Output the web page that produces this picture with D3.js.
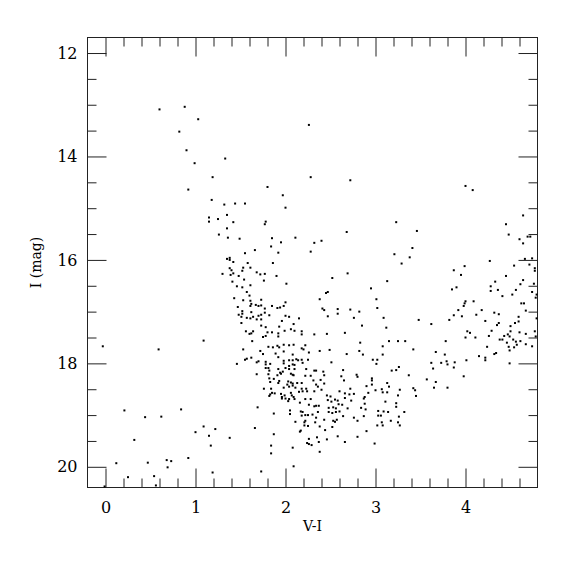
<!DOCTYPE html>
<html lang="en">
<head>
<meta charset="UTF-8">
<title>V-I vs I</title>
<script src="https://cdn.jsdelivr.net/npm/d3@7/dist/d3.min.js"></script>
<style>
  body { margin: 0; background: #fff; }
  text { font-family: "DejaVu Serif", serif; fill: #000; }
</style>
</head>
<body>
<svg width="575" height="575"></svg>
<script>
// colour V-I of each star
var colorVI = [
  0.60,0.88,1.03,0.82,0.90,1.33,0.99,1.19,
  2.26,2.28,
  0.92,1.18,1.32,1.35,1.15,1.15,1.25,1.35,1.26,1.36,1.35,1.38,1.38,1.38,1.30,1.39,
  2.72,1.80,1.97,1.44,1.55,2.00,1.42,1.78,1.77,2.68,1.49,1.85,2.11,1.95,2.40,2.32,1.84,1.66,2.28,1.92,
  1.55,1.42,1.86,1.58,1.53,1.61,1.40,1.52,1.42,1.68,1.72,1.77,2.69,1.48,1.90,2.52,1.54,1.76,1.41,2.01,
  1.46,1.52,1.61,2.95,1.57,2.47,2.45,1.60,1.43,2.38,3.01,1.53,1.61,1.73,2.00,1.62,1.67,1.70,1.73,1.61,
  1.47,1.85,1.98,1.91,1.94,1.77,2.41,2.43,2.58,2.72,3.02,1.52,1.52,1.62,2.58,1.77,2.82,1.48,1.73,1.70,
  1.64,1.51,1.82,2.00,2.04,2.47,1.57,1.61,2.76,2.15,1.68,1.73,1.96,1.51,2.09,1.73,2.85,1.78,1.93,2.06,
  4.00,4.08,4.64,3.23,4.45,3.46,4.48,4.60,4.69,4.72,4.64,3.41,3.21,3.38,4.66,4.74,4.27,3.29,4.54,4.71,
  4.77,4.77,3.87,3.99,3.95,4.45,3.13,4.64,4.33,4.61,4.76,4.28,3.90,3.85,4.28,4.36,4.56,4.74,4.79,4.52,
  4.41,4.78,4.00,4.09,3.99,4.65,4.62,3.98,3.92,4.18,4.67,3.09,3.12,3.48,3.62,3.82,3.87,3.96,4.12,4.32,
  4.37,4.59,4.22,4.35,4.37,4.55,4.59,4.50,4.79,
  -0.03,0.59,1.09,0.21,0.44,0.62,0.84,0.32,1.00,1.09,1.22,1.15,1.17,1.38,0.12,0.47,0.68,0.73,0.69,0.92,
  0.25,0.54,1.19,0.56,-0.01,
  1.56,1.60,1.62,1.64,1.80,1.85,1.92,1.99,2.10,2.18,2.18,2.32,2.46,2.66,1.75,1.78,1.92,1.63,2.83,1.53,
  1.81,1.86,1.91,1.93,1.98,2.04,2.09,2.18,2.22,2.20,2.38,2.49,2.82,1.98,1.72,1.75,1.89,1.92,2.08,2.26,
  2.68,2.86,1.57,1.55,1.62,1.68,1.70,1.78,1.78,1.83,1.98,2.04,2.08,2.12,2.14,2.18,2.19,2.25,1.98,2.51,
  2.97,3.01,3.02,1.46,2.04,2.08,2.10,1.78,1.81,1.82,1.92,2.00,2.04,2.10,2.23,1.94,1.95,1.97,2.06,2.08,
  1.91,2.32,2.34,2.42,1.68,1.81,2.09,2.22,2.28,2.43,2.64,2.62,2.79,2.80,1.82,1.87,1.83,1.93,1.92,2.03,
  2.06,2.08,2.13,2.18,2.31,2.39,2.43,2.34,2.65,2.96,2.96,2.96,2.02,2.04,2.08,2.11,1.98,1.76,1.84,2.18,
  2.23,2.36,2.40,2.72,2.90,3.00,1.85,1.83,1.88,1.95,1.96,1.99,2.00,2.06,2.07,2.09,2.15,2.19,2.24,2.32,
  2.46,2.50,2.60,2.66,2.71,2.76,2.88,2.92,1.82,1.96,2.03,2.04,2.10,2.16,2.22,2.28,2.47,2.51,2.55,2.58,
  2.66,2.73,2.87,2.26,2.32,2.34,2.37,2.48,2.53,2.56,2.59,2.63,2.69,2.84,2.88,2.89,3.03,1.69,1.87,2.05,
  2.05,2.17,2.19,2.18,2.22,2.25,2.30,2.34,2.36,2.48,2.52,2.56,2.60,2.64,2.76,2.87,2.11,2.21,2.22,2.21,
  2.25,2.43,2.53,2.57,2.55,2.52,2.38,2.33,2.80,2.90,3.03,3.02,1.66,2.17,2.16,2.44,2.46,2.26,2.35,2.58,
  2.66,2.80,1.87,2.24,2.26,2.29,2.37,2.99,1.84,1.84,2.08,2.38,2.09,1.73,
  3.08,3.08,3.15,3.25,3.33,3.42,3.78,4.02,4.05,4.11,4.00,4.26,4.29,4.43,4.47,4.50,4.49,4.60,4.67,4.77,
  4.78,4.56,4.57,4.61,4.67,4.74,4.24,4.38,4.41,4.46,4.48,4.49,4.54,4.53,4.15,4.22,4.22,4.32,4.34,3.77,
  3.67,3.62,3.64,3.73,3.79,3.80,3.88,3.87,4.01,3.98,4.49,3.18,3.23,3.26,3.37,3.57,3.67,3.65,3.80,3.13,
  3.15,3.07,3.08,3.13,3.27,3.42,3.44,3.45,3.25,3.11,3.23,3.23,3.09,3.14,3.32,3.26,3.06,3.17,3.25,3.27,
  3.07,3.08
];
// I magnitude of each star, same order
var magI = [
  13.09,13.04,13.28,13.52,13.88,14.04,14.13,14.40,
  13.39,14.40,
  14.64,14.84,14.93,15.13,15.18,15.26,15.21,15.39,15.51,15.57,15.98,15.96,16.00,16.16,16.27,16.29,
  14.46,14.59,14.75,14.91,14.91,14.99,15.27,15.26,15.31,15.46,15.59,15.58,15.57,15.66,15.63,15.67,15.74,15.81,15.84,15.86,
  15.87,16.04,16.06,16.06,16.15,16.15,16.20,16.21,16.26,16.24,16.28,16.27,16.26,16.31,16.31,16.35,16.38,16.40,16.42,16.46,
  16.51,16.53,16.49,16.55,16.62,16.62,16.64,16.69,16.74,16.76,16.76,16.78,16.79,16.77,16.82,16.85,16.87,16.89,16.88,16.89,
  16.91,16.89,16.89,16.93,16.92,16.94,16.94,16.97,16.95,16.96,16.93,16.99,17.04,17.01,17.04,17.02,17.00,17.06,17.06,17.08,
  17.10,17.10,17.07,17.08,17.10,17.09,17.12,17.13,17.12,17.13,17.15,17.15,17.18,17.22,17.24,17.27,17.27,17.30,17.29,17.34,
  14.57,14.65,15.14,15.27,15.31,15.44,15.51,15.60,15.55,15.55,15.68,15.77,15.89,15.95,15.98,15.97,16.02,16.07,16.11,16.09,
  16.16,16.21,16.20,16.12,16.29,16.31,16.41,16.39,16.42,16.47,16.46,16.51,16.53,16.57,16.60,16.58,16.58,16.62,16.67,16.67,
  16.70,16.73,16.80,16.80,16.84,16.84,16.84,16.89,16.97,16.97,16.98,17.12,17.31,17.16,17.24,17.16,17.07,17.09,17.06,17.02,
  17.05,17.10,17.18,17.26,17.22,17.22,17.19,17.28,17.13,
  17.67,17.73,17.56,18.91,19.04,19.03,18.89,19.48,19.33,19.22,19.27,19.40,19.59,19.44,19.93,19.92,19.87,19.89,20.01,19.83,
  20.20,20.18,20.11,20.36,20.38,
  17.38,17.43,17.42,17.38,17.40,17.40,17.42,17.37,17.37,17.38,17.44,17.44,17.43,17.41,17.49,17.47,17.48,17.57,17.60,17.73,
  17.68,17.69,17.66,17.69,17.64,17.65,17.64,17.71,17.65,17.73,17.76,17.74,17.76,17.77,17.76,17.82,17.81,17.88,17.83,17.79,
  17.82,17.83,17.91,17.93,17.89,17.98,17.96,17.97,18.02,18.01,17.95,17.94,17.94,17.92,17.94,17.93,17.99,17.93,18.00,17.98,
  17.93,18.01,17.93,18.01,18.05,18.02,18.03,18.09,18.09,18.14,18.11,18.09,18.11,18.11,18.11,18.18,18.20,18.16,18.20,18.22,
  18.23,18.14,18.14,18.16,18.21,18.21,18.23,18.24,18.24,18.23,18.13,18.25,18.22,18.26,18.29,18.30,18.36,18.34,18.38,18.35,
  18.37,18.39,18.38,18.38,18.33,18.32,18.39,18.41,18.33,18.29,18.33,18.41,18.41,18.45,18.43,18.47,18.47,18.49,18.49,18.49,
  18.49,18.45,18.51,18.49,18.44,18.52,18.57,18.60,18.58,18.59,18.65,18.62,18.68,18.57,18.62,18.65,18.55,18.54,18.54,18.54,
  18.62,18.64,18.54,18.58,18.60,18.59,18.65,18.57,18.63,18.68,18.73,18.69,18.69,18.76,18.69,18.69,18.71,18.74,18.70,18.72,
  18.67,18.72,18.68,18.80,18.83,18.82,18.82,18.86,18.85,18.87,18.79,18.80,18.87,18.86,18.78,18.89,18.92,18.85,18.97,18.91,
  18.98,18.93,18.94,19.01,19.00,19.00,18.99,19.05,18.94,18.94,18.96,18.94,18.93,19.02,19.05,19.02,19.13,19.14,19.11,19.20,
  19.21,19.09,19.11,19.09,19.13,19.23,19.22,19.14,19.11,19.31,19.01,19.20,19.25,19.30,19.32,19.29,19.47,19.46,19.43,19.41,
  19.52,19.42,19.37,19.54,19.56,19.58,19.52,19.55,19.59,19.74,19.63,19.71,19.99,20.09,
  17.67,17.83,17.57,17.57,17.57,17.73,17.57,17.38,17.41,17.50,17.50,17.47,17.37,17.47,17.44,17.38,17.48,17.40,17.43,17.38,
  17.48,17.58,17.64,17.57,17.63,17.67,17.68,17.54,17.54,17.60,17.68,17.75,17.69,17.54,17.86,17.89,17.94,17.82,17.80,17.83,
  17.78,17.99,18.10,17.99,17.96,18.02,17.98,18.08,17.94,18.25,18.00,18.14,18.13,18.07,18.23,18.31,18.36,18.47,18.47,18.38,
  18.45,18.50,18.56,18.56,18.51,18.48,18.52,18.63,18.62,18.74,18.77,18.84,18.93,18.94,18.94,19.03,19.01,19.11,19.14,19.20,
  19.14,19.20
];
var xMajor = [0, 1, 2, 3, 4];
var yMajor = [12, 14, 16, 18, 20];

var svg = d3.select("svg");
var padL = 87.5, padR = 537.5, padT = 37.5, padB = 487.5;

var x = d3.scaleLinear().domain([-0.2, 4.8]).range([padL, padR]);
var y = d3.scaleLinear().domain([11.7, 20.4]).range([padT, padB]);

// minor ticks: every 0.2 in V-I, every 0.5 in I
var xMinor = d3.range(-0.2, 4.81, 0.2).map(function(d){ return +d.toFixed(1); })
    .filter(function(d){ return xMajor.indexOf(d) < 0 && d > -0.2 && d < 4.8; });
var yMinor = d3.range(12, 20.41, 0.5)
    .filter(function(d){ return yMajor.indexOf(d) < 0; });

function addAxis(axis, tx, ty, ticks, size, pad) {
  var g = svg.append("g")
      .attr("transform", "translate(" + tx + "," + ty + ")")
      .call(axis.tickValues(ticks).tickSizeInner(-size).tickSizeOuter(0)
        .tickPadding(pad || 0)
        .tickFormat(pad ? d3.format("d") : ""));
  g.select(".domain").remove();
  g.selectAll(".tick line").attr("stroke", "#222");
  g.selectAll(".tick text").style("font-size", "16px").attr("font-family", "DejaVu Serif");
  return g;
}

addAxis(d3.axisBottom(x), 0, padB, xMajor, 19, 14);
addAxis(d3.axisBottom(x), 0, padB, xMinor, 9, 0);
addAxis(d3.axisTop(x), 0, padT, xMajor, 19, 0);
addAxis(d3.axisTop(x), 0, padT, xMinor, 9, 0);
addAxis(d3.axisLeft(y), padL, 0, yMajor, 19, 10);
addAxis(d3.axisLeft(y), padL, 0, yMinor, 9, 0);
addAxis(d3.axisRight(y), padR, 0, yMajor, 19, 0);
addAxis(d3.axisRight(y), padR, 0, yMinor, 9, 0);

// frame
svg.append("rect")
    .attr("x", padL).attr("y", padT)
    .attr("width", padR - padL).attr("height", padB - padT)
    .attr("fill", "none").attr("stroke", "#222").attr("stroke-width", 1);

// stars
var stars = d3.range(colorVI.length).map(function(i){ return [colorVI[i], magI[i]]; });
svg.append("g").selectAll("rect")
    .data(stars)
    .enter()
    .append("rect")
    .attr("x", function(d){ return x(d[0]) - 1; })
    .attr("y", function(d){ return y(d[1]) - 1; })
    .attr("width", 2)
    .attr("height", 2)
    .attr("fill", "#000");

// axis titles
svg.append("text")
    .attr("x", (padL + padR) / 2)
    .attr("y", 531)
    .attr("text-anchor", "middle")
    .style("font-size", "14px")
    .text("V-I");
svg.append("text")
    .attr("transform", "translate(41," + ((padT + padB) / 2) + ") rotate(-90)")
    .attr("text-anchor", "middle")
    .style("font-size", "14px")
    .text("I (mag)");
</script>
</body>
</html>
